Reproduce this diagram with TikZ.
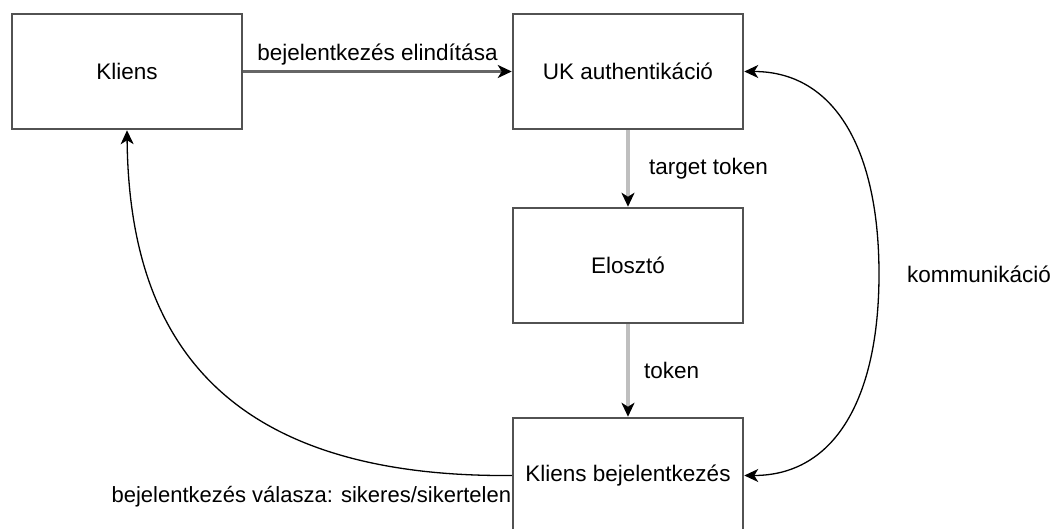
\documentclass[tikz,border=0pt]{standalone}
\usepackage{fontspec}
\setmainfont{Liberation Sans}
\usetikzlibrary{arrows.meta}
\begin{document}
\begin{tikzpicture}[x=1pt,y=-1pt,
	doboz/.style={draw=black!68,line width=2.5pt,minimum width=230pt,minimum height=115pt,inner sep=0pt,font=\fontsize{22.5}{27}\selectfont},
	felirat/.style={inner sep=0pt,font=\fontsize{22.5}{27}\selectfont},
	hegy/.style={-{Stealth[length=14pt,width=13pt,inset=4pt,color=black]}},
	ketvegu/.style={{Stealth[length=14pt,width=13pt,inset=4pt,color=black]}-{Stealth[length=14pt,width=13pt,inset=4pt,color=black]}}]
			\useasboundingbox (0,0) rectangle (1050,529);
			\node[doboz] (kliens) at (127,71.5) {Kliens};
			\node[doboz] (uk) at (628,71.5) {UK authentikáció};
			\node[doboz] (eloszto) at (628,265.5) {Elosztó};
			\node[doboz] (kbej) at (628,475.5) {Kliens bejelentkezés};
			\draw[hegy,draw=black!60,line width=3pt] (kliens) -- (uk) node[felirat,midway,above=5pt] (l1) {bejelentkezés elindítása};
			\draw[hegy,draw=black!25,line width=4pt] (uk) -- (eloszto) node[felirat,midway,right=19pt] (l2) {target token};
			\draw[hegy,draw=black!25,line width=4pt] (eloszto) -- (kbej) node[felirat,midway,right=14pt] (l3) {token};
			\draw[hegy,line width=1.3pt] (kbej.west) node[felirat,anchor=north east,yshift=-10pt,font=\fontsize{22}{26}\selectfont] (l4) {bejelentkezés válasza: sikeres/sikertelen} .. controls (205,478) and (129,320) .. (kliens.south);
			\draw[ketvegu,line width=1.3pt] (uk.east) .. controls (835,71.5) and (879,150) .. (879,274) coordinate (bog) .. controls (879,398) and (835,475.5) .. (kbej.east);
			\node[felirat,anchor=west] (l5) at ([xshift=28pt]bog) {kommunikáció};
		\end{tikzpicture}
\end{document}
